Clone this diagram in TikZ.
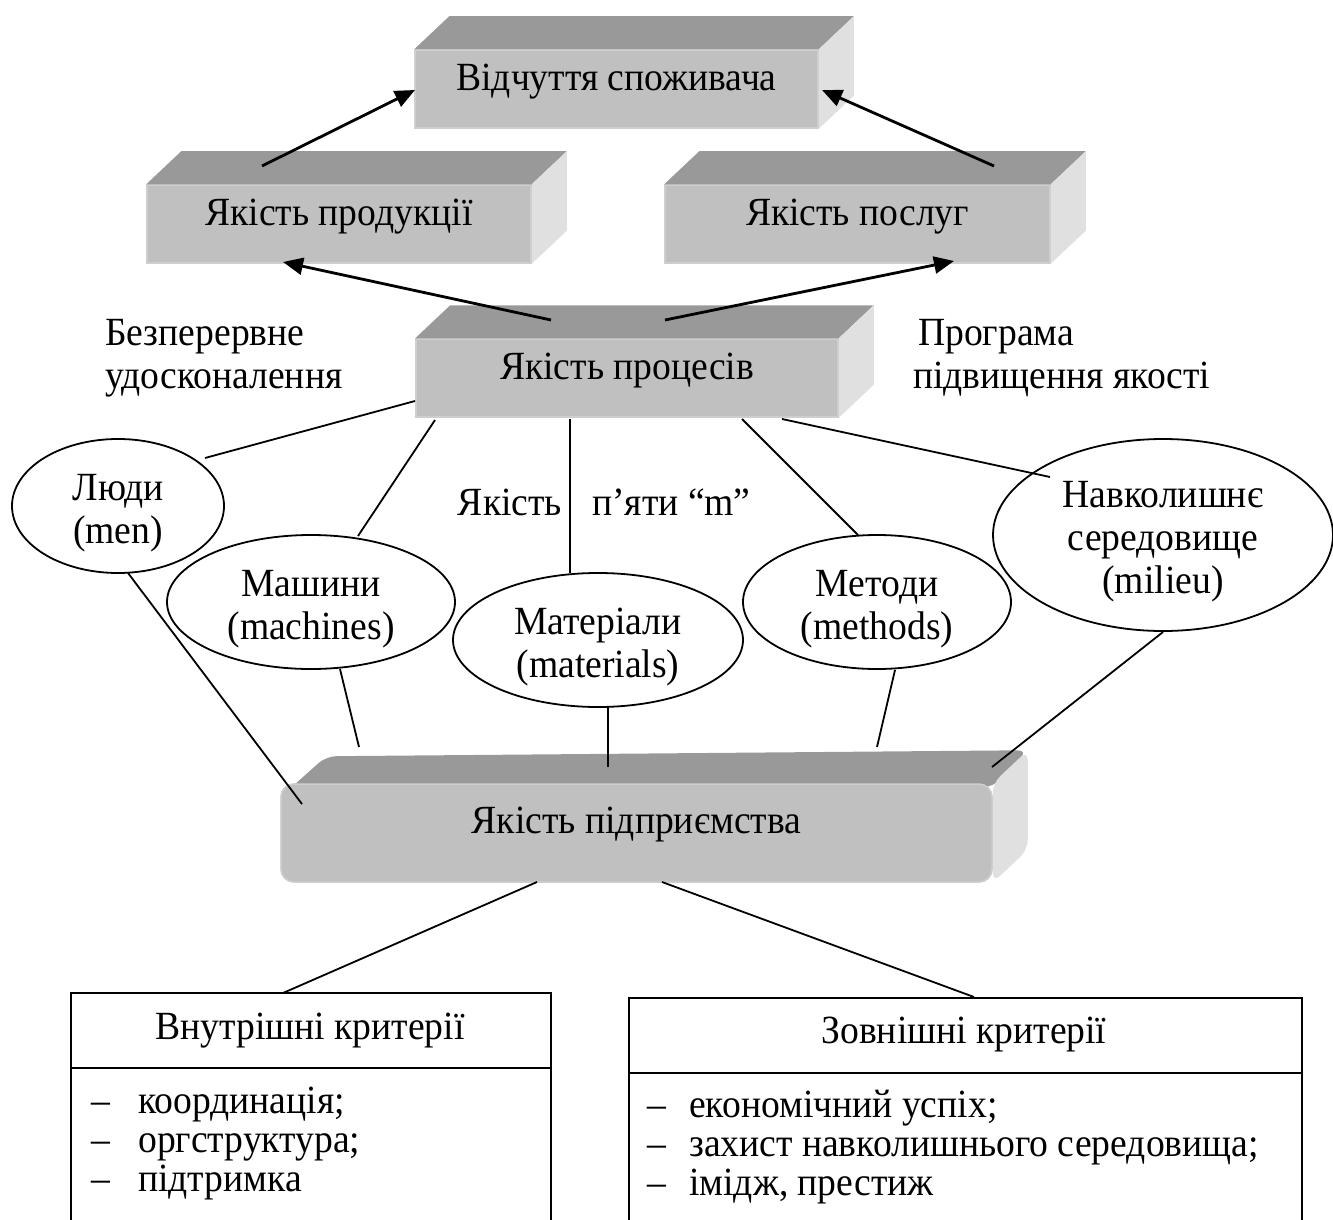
\documentclass[tikz,border=0pt]{standalone}
\usepackage{fontspec}
\setmainfont{Liberation Serif}[FakeStretch=0.94]
\usetikzlibrary{arrows.meta,shapes.geometric}
\definecolor{frontc}{RGB}{192,192,192}
\definecolor{topc}{RGB}{153,153,153}
\definecolor{sidec}{RGB}{224,224,224}
\definecolor{edgec}{RGB}{206,206,206}
\newcommand\diagfont{\fontsize{40}{43}\selectfont}
\newcommand\tstrut{\rule{0pt}{40pt}}
\newcommand\cubefaces[3]{%
  \fill[topc] (#1.north west) -- ++(#2,-#3) -- ([shift={(#2,-#3)}]#1.north east) -- (#1.north east) -- cycle;
  \fill[sidec] (#1.north east) -- ++(#2,-#3) -- ([shift={(#2,-#3)}]#1.south east) -- (#1.south east) -- cycle;}
\begin{document}
\begin{tikzpicture}[x=1pt,y=-1pt,
  face/.style={fill=frontc, draw=edgec, line width=1.5, inner sep=0, font=\diagfont, text height=0.65em, text depth=0.325em},
  ell/.style={ellipse, draw, line width=1.8, inner sep=0, align=center, font=\diagfont},
  lbl/.style={inner sep=0, font=\diagfont},
  conn/.style={line width=1.8},
  arr/.style={line width=2.8, -{Triangle[length=20pt,width=17pt]}},
  crit/.style={draw, line width=1.8, inner sep=0, anchor=north west}]
\useasboundingbox (0,0) rectangle (1333,1220);
\clip (0,0) rectangle (1333,1220);

% ---- 3D boxes ----
\node[face, minimum width=403, minimum height=78] (top) at (616.5,89) {Відчуття споживача};
\cubefaces{top}{35}{33}
\node[face, minimum width=384, minimum height=78] (prod) at (339,224) {Якість продукції};
\cubefaces{prod}{35}{33}
\node[face, minimum width=385, minimum height=78] (serv) at (857.5,224) {Якість послуг};
\cubefaces{serv}{35}{33}
\node[face, minimum width=422, minimum height=78] (proc) at (627,378) {Якість процесів};
\cubefaces{proc}{35}{33}

% enterprise box (rounded)
\node[face, rounded corners=13, minimum width=711, minimum height=98] (ent) at (636.5,833) {};
\fill[topc, rounded corners=10] ([yshift=-14]ent.north west) -- ++(46,-41) -- ([shift={(35,-33)}]ent.north east) -- ([yshift=-4]ent.north east) -- cycle;
\fill[sidec, rounded corners=10] (ent.north east) -- ++(35,-33) -- ([shift={(35,-33)}]ent.south east) -- (ent.south east) -- cycle;
\node[face, rounded corners=13, minimum width=711, minimum height=98, text height=0.5em, text depth=0.4em] (entf) at (636.5,833) {Якість підприємства};

% ---- arrows ----
\coordinate (a1s) at (262,166);
\coordinate (a1e) at (415,90);
\coordinate (a2s) at (994,166);
\coordinate (a2e) at (822,90);
\coordinate (a3s) at (551,320);
\coordinate (a3e) at (283,262);
\coordinate (a4s) at (665,320);
\coordinate (a4e) at (954,261);
\draw[arr] (a1s) -- (a1e);
\draw[arr] (a2s) -- (a2e);
\draw[arr] (a3s) -- (a3e);
\draw[arr] (a4s) -- (a4e);

% ---- side labels ----
\node[lbl, anchor=north west, align=left] (bez) at (105,305) {\tstrut Безперервне\\удосконалення};
\node[lbl, anchor=north west, align=left] (prog) at (913,305) {\tstrut\hspace*{5pt}Програма\\підвищення якості};
\node[lbl, anchor=base] (q1) at (510,515) {Якість};
\node[lbl, anchor=base west] (q2) at (592,515) {п’яти “m”};

% ---- ellipses ----
\node[ell, minimum width=212, minimum height=134] (men) at (118,506) {\tstrut Люди\\(men)};
\node[ell, minimum width=288, minimum height=134] (mach) at (311,602) {\tstrut Машини\\(machines)};
\node[ell, minimum width=290, minimum height=134] (mat) at (598,640) {\tstrut Матеріали\\(materials)};
\node[ell, minimum width=268, minimum height=134] (meth) at (877,602) {\tstrut Методи\\(methods)};
\node[ell, minimum width=340, minimum height=192] (mil) at (1163,535) {\tstrut Навколишнє\\середовище\\(milieu)};

% ---- connectors process -> m's ----
\coordinate (p1) at (415,401); \coordinate (m1) at (205,458);
\coordinate (p2) at (435,420); \coordinate (m2) at (358,536);
\coordinate (p3) at (570,419); \coordinate (m3) at (570,573);
\coordinate (p4) at (742,419); \coordinate (m4) at (858,535);
\coordinate (p5) at (782,419); \coordinate (m5) at (1050,477);
\draw[conn] (p1) -- (m1);
\draw[conn] (p2) -- (m2);
\draw[conn] (p3) -- (m3);
\draw[conn] (p4) -- (m4);
\draw[conn] (p5) -- (m5);

% ---- connectors m's -> enterprise ----
\coordinate (b1) at (128,573); \coordinate (e1) at (302,804);
\coordinate (b2) at (340,669); \coordinate (e2) at (359,747);
\coordinate (b3) at (608,707); \coordinate (e3) at (608,767);
\coordinate (b4) at (895,670); \coordinate (e4) at (877,747);
\coordinate (b5) at (1163,632); \coordinate (e5) at (992,767);
\draw[conn] (b1) -- (e1);
\draw[conn] (b2) -- (e2);
\draw[conn] (b3) -- (e3);
\draw[conn] (b4) -- (e4);
\draw[conn] (b5) -- (e5);

% ---- criteria boxes ----
\node[crit, minimum width=480, minimum height=260] (inbox) at (70,992) {};
\draw[conn] (70,1068) -- (550,1068);
\node[crit, minimum width=673, minimum height=260] (outbox) at (628,997) {};
\draw[conn] (628,1073) -- (1301,1073);
\node[lbl, anchor=base] (inh) at (310,1039) {Внутрішні критерії};
\node[lbl, anchor=base] (outh) at (964,1043) {Зовнішні критерії};

\coordinate (c1s) at (537,882); \coordinate (c1e) at (283,993);
\coordinate (c2s) at (662,882); \coordinate (c2e) at (974,997);
\draw[conn] (c1s) -- (c1e);
\draw[conn] (c2s) -- (c2e);

% items
\node[lbl, anchor=base west] (d1) at (91,1113) {–};
\node[lbl, anchor=base west] (i1) at (138,1113) {координація;};
\node[lbl, anchor=base west] (d2) at (91,1152) {–};
\node[lbl, anchor=base west] (i2) at (138,1152) {оргструктура;};
\node[lbl, anchor=base west] (d3) at (91,1191) {–};
\node[lbl, anchor=base west] (i3) at (138,1191) {підтримка};

\node[lbl, anchor=base west] (d4) at (647,1117) {–};
\node[lbl, anchor=base west] (o1) at (689,1117) {економічний успіх;};
\node[lbl, anchor=base west] (d5) at (647,1156) {–};
\node[lbl, anchor=base west] (o2) at (689,1156) {захист навколишнього середовища;};
\node[lbl, anchor=base west] (d6) at (647,1195) {–};
\node[lbl, anchor=base west] (o3) at (689,1195) {імідж, престиж};
\end{tikzpicture}
\end{document}
